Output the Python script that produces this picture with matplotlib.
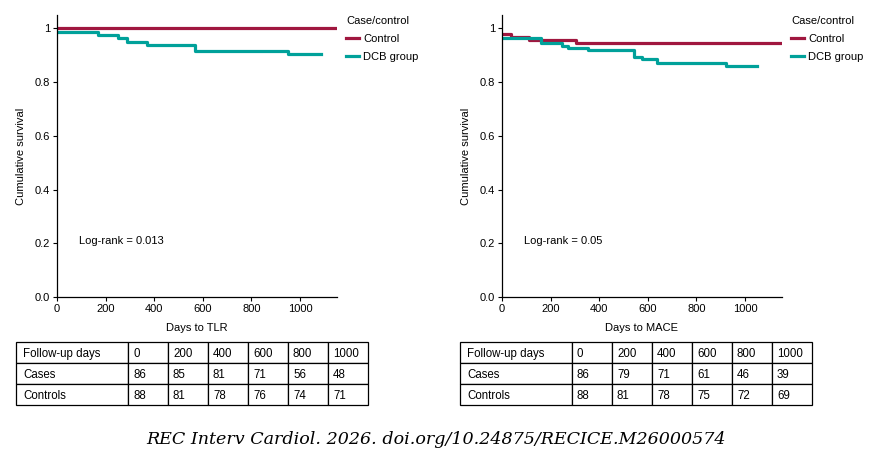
import matplotlib
matplotlib.use("Agg")
import matplotlib.pyplot as plt

plt.rcParams['font.family'] = ['Liberation Sans', 'DejaVu Sans']

# ---- data ----
# Left panel: Days to TLR
tlr_control_t = [0, 1150]
tlr_control_s = [1.0, 1.0]
tlr_dcb_t = [0, 167, 253, 287, 369, 567, 949, 1086]
tlr_dcb_s = [0.988, 0.976, 0.963, 0.948, 0.938, 0.916, 0.904, 0.904]

# Right panel: Days to MACE
mace_control_t = [0, 36, 111, 304, 1150]
mace_control_s = [0.980, 0.969, 0.957, 0.945, 0.945]
mace_dcb_t = [0, 162, 245, 272, 354, 544, 578, 639, 920, 1048]
mace_dcb_s = [0.964, 0.947, 0.934, 0.926, 0.919, 0.892, 0.885, 0.871, 0.859, 0.859]

xticks = [0, 200, 400, 600, 800, 1000]
yticks = [0.0, 0.2, 0.4, 0.6, 0.8, 1.0]
ytick_labels = ["0.0", "0.2", "0.4", "0.6", "0.8", "1"]

table_header = ["Follow-up days", "0", "200", "400", "600", "800", "1000"]
tlr_cases = ["Cases", "86", "85", "81", "71", "56", "48"]
tlr_controls = ["Controls", "88", "81", "78", "76", "74", "71"]
mace_cases = ["Cases", "86", "79", "71", "61", "46", "39"]
mace_controls = ["Controls", "88", "81", "78", "75", "72", "69"]

c_control = "#A0173F"
c_dcb = "#00A19A"

W, H = 870, 468
fig = plt.figure(figsize=(W / 100, H / 100), dpi=100)
FS = 8


def px(x0, y0, x1, y1):
    return [x0 / W, 1 - y1 / H, (x1 - x0) / W, (y1 - y0) / H]


def panel(rect, ct, cs, dt, ds, xlabel, logrank):
    ax = fig.add_axes(rect)
    ax.step(ct, cs, where='post', color=c_control, lw=2.3, label="Control")
    ax.step(dt, ds, where='post', color=c_dcb, lw=2.3, label="DCB group")
    ax.set_xlim(0, 1152)
    ax.set_ylim(0, 1.05)
    ax.set_xticks(xticks)
    ax.set_yticks(yticks)
    ax.set_yticklabels(ytick_labels)
    for s in ['top', 'right']:
        ax.spines[s].set_visible(False)
    for s in ['left', 'bottom']:
        ax.spines[s].set_linewidth(0.9)
    ax.tick_params(direction='out', length=3, width=0.8, labelsize=FS, pad=2)
    ax.set_xlabel(xlabel, fontsize=FS, labelpad=6.5)
    ax.set_ylabel("Cumulative survival", fontsize=FS)
    ax.yaxis.set_label_coords(-0.11, 0.5)
    ax.text(90, 0.21, logrank, fontsize=FS, va='center', ha='left')
    ax.legend(loc='upper left', bbox_to_anchor=(1.033, 0.998), frameon=False,
              title="Case/control", fontsize=FS, title_fontsize=FS,
              handlelength=1.15, handletextpad=0.4, labelspacing=0.75,
              alignment='left', borderaxespad=0, borderpad=0)
    return ax


panel(px(57, 15, 337, 297), tlr_control_t, tlr_control_s, tlr_dcb_t, tlr_dcb_s,
      "Days to TLR", "Log-rank = 0.013")
panel(px(502, 15, 782, 297), mace_control_t, mace_control_s, mace_dcb_t, mace_dcb_s,
      "Days to MACE", "Log-rank = 0.05")


def draw_table(rect, rows):
    tax = fig.add_axes(rect)
    tax.axis('off')
    first = 112.0
    other = 40.0
    tot = first + 6 * other
    widths = [first / tot] + [other / tot] * 6
    tb = tax.table(cellText=rows, colWidths=widths, cellLoc='left',
                   bbox=[0, 0, 1, 1])
    tb.auto_set_font_size(False)
    tb.set_fontsize(8.3)
    for (r, c), cell in tb.get_celld().items():
        cell.set_linewidth(0.9)
        cell.set_edgecolor('black')
        cell.PAD = (7.0 / first) if c == 0 else (5.0 / other)
        cell.get_text().set_va('center_baseline')
    return tax


draw_table(px(16, 342, 368, 405), [table_header, tlr_cases, tlr_controls])
draw_table(px(460, 342, 812, 405), [table_header, mace_cases, mace_controls])

fig.text(436 / W, 1 - 440 / H, "REC Interv Cardiol. 2026. doi.org/10.24875/RECICE.M26000574",
         family=['DejaVu Serif'], style='italic', fontsize=12.6,
         ha='center', va='center')

fig.savefig("out.png", dpi=100)
